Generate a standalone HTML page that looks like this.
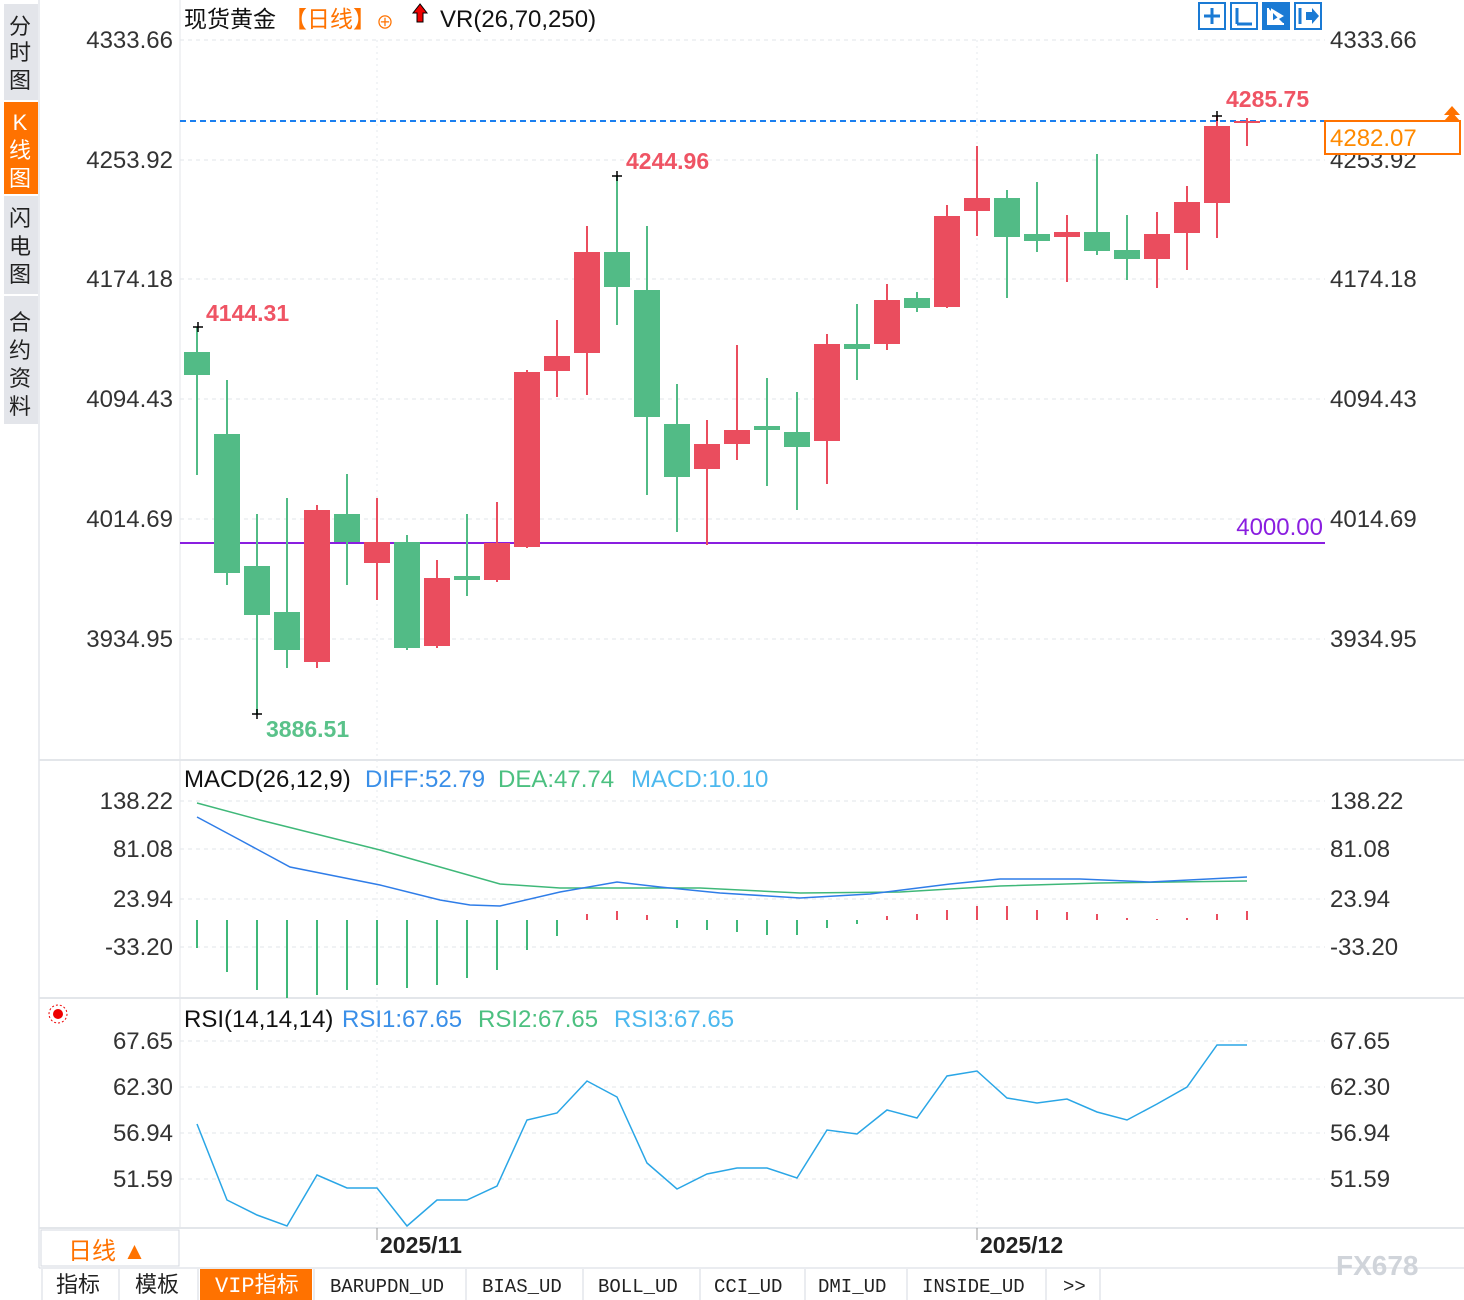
<!DOCTYPE html>
<html><head><meta charset="utf-8"><style>
body{margin:0;width:1464px;height:1300px;background:#fff;overflow:hidden;font-family:"Liberation Sans","Noto Sans CJK SC",sans-serif}
svg{position:absolute;left:0;top:0}
</style></head><body>
<svg width="1464" height="1300" xmlns="http://www.w3.org/2000/svg" font-family="Liberation Sans, Noto Sans CJK SC, sans-serif">
<rect x="0" y="0" width="38" height="1228" fill="#fff"/>
<rect x="4" y="4" width="34" height="96" fill="#e3e5ea"/>
<rect x="4" y="102" width="34" height="92" fill="#ff7200"/>
<rect x="4" y="196" width="34" height="98" fill="#e3e5ea"/>
<rect x="4" y="296" width="34" height="128" fill="#e3e5ea"/>
<g font-size="22" text-anchor="middle" fill="#222">
<text x="20" y="34">分</text><text x="20" y="60">时</text><text x="20" y="88">图</text>
<text x="20" y="130" fill="#fff">K</text><text x="20" y="158" fill="#fff">线</text><text x="20" y="186" fill="#fff">图</text>
<text x="20" y="226">闪</text><text x="20" y="254">电</text><text x="20" y="282">图</text>
<text x="20" y="330">合</text><text x="20" y="358">约</text><text x="20" y="386">资</text><text x="20" y="414">料</text>
</g>
<line x1="39" y1="0" x2="39" y2="1268" stroke="#d5d9e0"/>
<line x1="180" y1="0" x2="180" y2="1228" stroke="#e3e6ea"/>
<line x1="39" y1="760" x2="1464" y2="760" stroke="#e3e6ea" stroke-width="2"/>
<line x1="39" y1="998" x2="1464" y2="998" stroke="#e3e6ea" stroke-width="2"/>
<line x1="39" y1="1228" x2="1464" y2="1228" stroke="#e3e6ea" stroke-width="2"/>
<g stroke="#e2e5e9" stroke-dasharray="4,4">
<line x1="180" y1="40" x2="1325" y2="40"/><line x1="180" y1="160" x2="1325" y2="160"/><line x1="180" y1="279" x2="1325" y2="279"/><line x1="180" y1="399" x2="1325" y2="399"/><line x1="180" y1="519" x2="1325" y2="519"/><line x1="180" y1="639" x2="1325" y2="639"/>
<line x1="180" y1="801" x2="1325" y2="801"/><line x1="180" y1="849" x2="1325" y2="849"/><line x1="180" y1="899" x2="1325" y2="899"/><line x1="180" y1="947" x2="1325" y2="947"/>
<line x1="180" y1="1041" x2="1325" y2="1041"/><line x1="180" y1="1087" x2="1325" y2="1087"/><line x1="180" y1="1133" x2="1325" y2="1133"/><line x1="180" y1="1179" x2="1325" y2="1179"/>
</g>
<g stroke="#e6e8ec" stroke-dasharray="2,4">
<line x1="377" y1="40" x2="377" y2="1228"/><line x1="977" y1="40" x2="977" y2="1228"/>
</g>
<g font-size="24" fill="#333">
<g text-anchor="end"><text x="173" y="48">4333.66</text><text x="173" y="168">4253.92</text><text x="173" y="287">4174.18</text><text x="173" y="407">4094.43</text><text x="173" y="527">4014.69</text><text x="173" y="647">3934.95</text>
<text x="173" y="809">138.22</text><text x="173" y="857">81.08</text><text x="173" y="907">23.94</text><text x="173" y="955">-33.20</text>
<text x="173" y="1049">67.65</text><text x="173" y="1095">62.30</text><text x="173" y="1141">56.94</text><text x="173" y="1187">51.59</text></g>
<text x="1330" y="48">4333.66</text><text x="1330" y="168">4253.92</text><text x="1330" y="287">4174.18</text><text x="1330" y="407">4094.43</text><text x="1330" y="527">4014.69</text><text x="1330" y="647">3934.95</text>
<text x="1330" y="809">138.22</text><text x="1330" y="857">81.08</text><text x="1330" y="907">23.94</text><text x="1330" y="955">-33.20</text>
<text x="1330" y="1049">67.65</text><text x="1330" y="1095">62.30</text><text x="1330" y="1141">56.94</text><text x="1330" y="1187">51.59</text>
</g>
<text x="184" y="27" font-size="23" fill="#111">现货黄金</text>
<text x="284" y="27" font-size="23" fill="#ff7200">【日线】</text>
<text x="376" y="29" font-size="18" fill="#ff7200">⊕</text>
<path d="M420 4 l-7 9 h4 v9 h6 v-9 h4z" fill="#e00" stroke="#000" stroke-width="1"/>
<text x="440" y="27" font-size="24" fill="#111">VR(26,70,250)</text>
<g fill="none" stroke="#1a7ad4" stroke-width="2">
<rect x="1199" y="3" width="26" height="26"/><rect x="1231" y="3" width="26" height="26"/><rect x="1295" y="3" width="26" height="26"/>
</g>
<rect x="1262" y="2" width="28" height="28" fill="#1a7ad4"/>
<g stroke="#1a7ad4" stroke-width="3"><line x1="1212" y1="8" x2="1212" y2="24"/><line x1="1204" y1="16" x2="1220" y2="16"/><line x1="1237" y1="8" x2="1237" y2="24"/><line x1="1237" y1="24" x2="1252" y2="24"/><line x1="1300" y1="8" x2="1300" y2="24"/></g>
<path d="M1306 12 h6 v-4 l7 8 -7 8 v-4 h-6z" fill="#1a7ad4"/>
<path d="M1268 8 v16 h16 M1272 10 l10 6 -10 6z" stroke="#fff" stroke-width="2" fill="#fff"/>
<line x1="180" y1="121" x2="1325" y2="121" stroke="#1a7ff0" stroke-width="2" stroke-dasharray="6,4"/>
<line x1="180" y1="543" x2="1325" y2="543" stroke="#8a1ee0" stroke-width="2"/>
<text x="1323" y="535" font-size="24" fill="#8a1ee0" text-anchor="end">4000.00</text>
<rect x="1325" y="121" width="135" height="33" fill="#fff" stroke="#ff7200" stroke-width="2"/>
<text x="1330" y="146" font-size="24" fill="#ff8a00">4282.07</text>
<path d="M1444 115 l8 -9 8 9z M1444 121 l8 -9 8 9z" fill="#ff7200"/>
<g id="c"></g>
<g font-size="23" font-weight="bold">
<text x="206" y="321" fill="#ef5464">4144.31</text>
<text x="626" y="169" fill="#ef5464">4244.96</text>
<text x="1226" y="107" fill="#ef5464">4285.75</text>
<text x="266" y="737" fill="#5ac28a">3886.51</text>
</g>
<g stroke="#000" stroke-width="1.5">
<path d="M193 327h10M198 322v10M612 176h10M617 171v10M252 714h10M257 709v10M1212 116h10M1217 111v10"/>
</g>
<text x="184" y="787" font-size="24" fill="#111">MACD(26,12,9)</text>
<text x="365" y="787" font-size="24" fill="#3a8fe8">DIFF:52.79</text>
<text x="498" y="787" font-size="24" fill="#4cc080">DEA:47.74</text>
<text x="631" y="787" font-size="24" fill="#4cb8ee">MACD:10.10</text>
<g id="h"></g>
<polyline fill="none" stroke="#3fb879" stroke-width="1.5" points="197,803 260,820 380,850 500,884 560,888 700,888 800,893 900,892 1000,886 1100,883 1247,881"/>
<polyline fill="none" stroke="#2f7de8" stroke-width="1.5" points="197,817 240,840 290,867 380,885 440,900 470,905 500,906 560,892 617,882 660,887 720,893 800,898 870,894 950,884 1000,879 1080,879 1150,882 1247,877"/>
<circle cx="58" cy="1014" r="5" fill="#e00"/><circle cx="58" cy="1014" r="9" fill="none" stroke="#e00" stroke-dasharray="2,2"/>
<text x="184" y="1027" font-size="24" fill="#111">RSI(14,14,14)</text>
<text x="342" y="1027" font-size="24" fill="#3a8fe8">RSI1:67.65</text>
<text x="478" y="1027" font-size="24" fill="#4cc080">RSI2:67.65</text>
<text x="614" y="1027" font-size="24" fill="#4cb8ee">RSI3:67.65</text>
<polyline fill="none" stroke="#2aa6e6" stroke-width="1.5" points="197,1124 227,1200 257,1215 287,1226 317,1175 347,1188 377,1188 407,1226 437,1200 467,1200 497,1186 527,1120 557,1113 587,1081 617,1097 647,1163 677,1189 707,1174 737,1168 767,1168 797,1178 827,1130 857,1134 887,1110 917,1118 947,1076 977,1071 1007,1098 1037,1103 1067,1099 1097,1112 1127,1120 1157,1104 1187,1087 1217,1045 1247,1045"/>
<rect x="41" y="1230" width="138" height="36" fill="#fff" stroke="#d5d9e0"/>
<text x="68" y="1259" font-size="24" fill="#ff7200">日线 ▲</text>
<line x1="377" y1="1228" x2="377" y2="1240" stroke="#999"/><line x1="977" y1="1228" x2="977" y2="1240" stroke="#999"/>
<text x="380" y="1253" font-size="23" font-weight="bold" fill="#222">2025/11</text>
<text x="980" y="1253" font-size="23" font-weight="bold" fill="#222">2025/12</text>
<line x1="39" y1="1268" x2="1464" y2="1268" stroke="#d5d9e0"/>
<text x="1336" y="1275" font-size="28" fill="#d0d4da" font-weight="bold">FX678</text>
<g font-size="22" fill="#222" font-family="Liberation Mono, Noto Sans CJK SC, monospace">
<rect x="200" y="1269" width="112" height="31" fill="#ff7200"/>
<g stroke="#d5d9e0"><line x1="42" y1="1269" x2="42" y2="1300"/><line x1="119" y1="1269" x2="119" y2="1300"/><line x1="198" y1="1269" x2="198" y2="1300"/><line x1="314" y1="1269" x2="314" y2="1300"/><line x1="466" y1="1269" x2="466" y2="1300"/><line x1="583" y1="1269" x2="583" y2="1300"/><line x1="700" y1="1269" x2="700" y2="1300"/><line x1="805" y1="1269" x2="805" y2="1300"/><line x1="907" y1="1269" x2="907" y2="1300"/><line x1="1046" y1="1269" x2="1046" y2="1300"/><line x1="1100" y1="1269" x2="1100" y2="1300"/></g>
<text x="56" y="1292">指标</text><text x="135" y="1292">模板</text><text x="215" y="1292" fill="#fff">VIP指标</text>
<text x="330" y="1292" font-size="19">BARUPDN_UD</text><text x="482" y="1292" font-size="19">BIAS_UD</text><text x="598" y="1292" font-size="19">BOLL_UD</text><text x="714" y="1292" font-size="19">CCI_UD</text><text x="818" y="1292" font-size="19">DMI_UD</text><text x="922" y="1292" font-size="19">INSIDE_UD</text><text x="1063" y="1292" font-size="19">&gt;&gt;</text>
</g>
</svg>
<script>
var C=[[352,375,327,475,0],[434,573,380,585,0],[566,615,514,714,0],[612,650,498,668,0],[510,662,505,668,1],[514,542,474,585,0],[542,563,498,600,1],[542,648,535,650,0],[578,646,560,648,1],[576,580,514,596,0],[543,580,502,582,1],[372,547,370,548,1],[356,371,320,397,1],[252,353,226,395,1],[252,287,176,325,0],[290,417,226,495,0],[424,477,384,532,0],[444,469,420,545,1],[430,444,345,460,1],[426,430,378,486,0],[432,447,392,510,0],[344,441,334,484,1],[344,349,304,380,0],[300,344,284,350,1],[298,308,292,312,0],[216,307,205,308,1],[198,211,146,236,1],[198,237,190,298,0],[234,241,182,252,0],[232,237,215,282,1],[232,251,154,255,0],[250,259,215,280,0],[234,259,212,288,1],[202,233,186,270,1],[126,203,116,238,1],[121,123,118,146,1]];
var H=[948,972,990,998,995,990,985,988,985,978,970,950,936,914,911,915,928,930,932,935,935,928,924,916,914,910,906,906,910,912,914,918,919,918,914,911];
var g=document.getElementById("c"),h=document.getElementById("h"),s="";
C.forEach(function(c,i){var x=197+30*i,col=c[4]?"#ea4d5e":"#52bb86";
s+='<line x1="'+x+'" y1="'+c[2]+'" x2="'+x+'" y2="'+c[3]+'" stroke="'+col+'" stroke-width="2"/>';
s+='<rect x="'+(x-13)+'" y="'+c[0]+'" width="26" height="'+Math.max(2,c[1]-c[0])+'" fill="'+col+'"/>';});
g.innerHTML=s;s="";
H.forEach(function(v,i){var x=197+30*i,col=v>920?"#3fb879":"#ea4d5e";
s+='<line x1="'+x+'" y1="920" x2="'+x+'" y2="'+v+'" stroke="'+col+'" stroke-width="2"/>';});
h.innerHTML=s;
</script>
</body></html>
